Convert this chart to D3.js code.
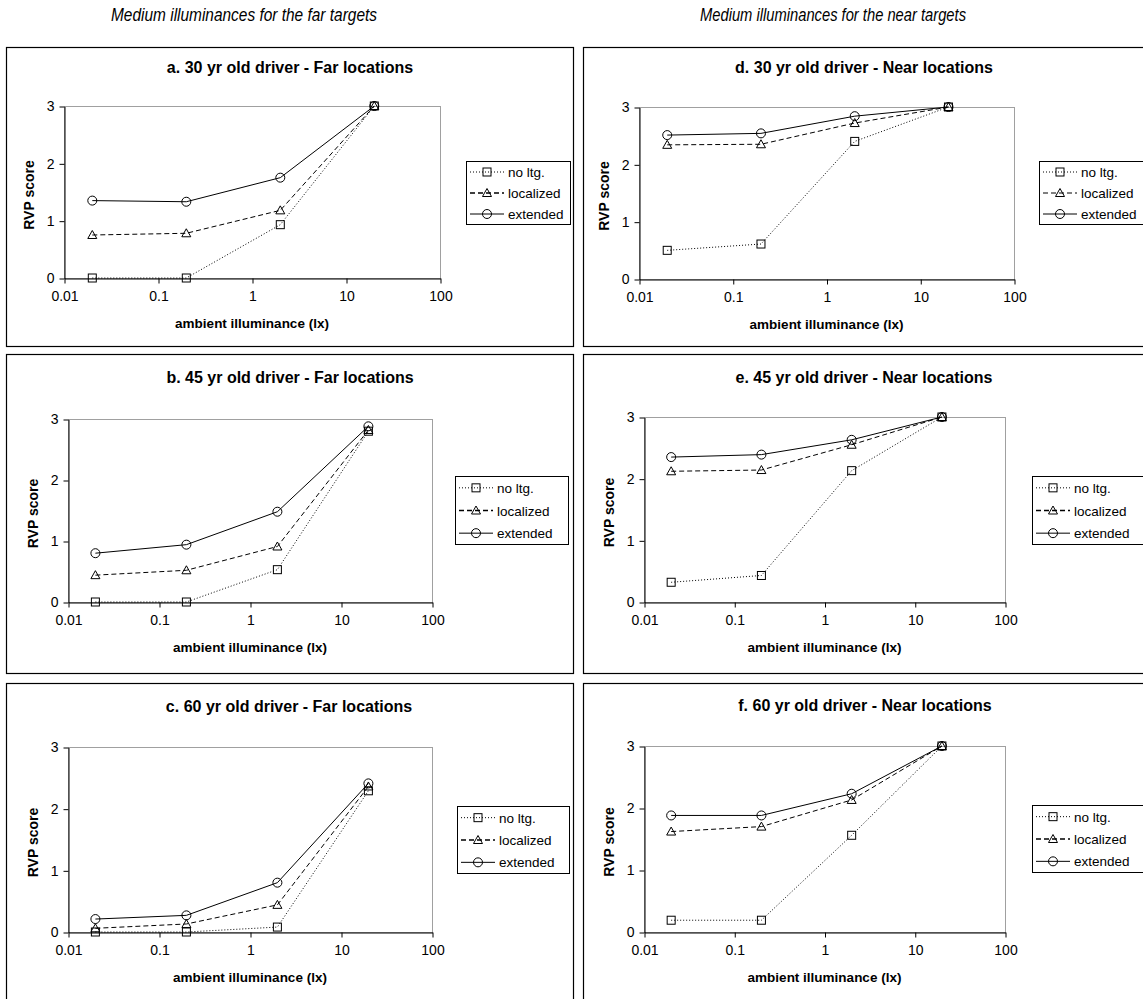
<!DOCTYPE html>
<html>
<head>
<meta charset="utf-8">
<script src="https://cdn.jsdelivr.net/npm/d3@7"></script>
<style>
  body { margin: 0; background: #fff; }
  svg { display: block; }
  text { font-family: "Liberation Sans", Arial, sans-serif; fill: #000; }
</style>
</head>
<body>
<svg id="chart" width="1143" height="999"></svg>
<script>
// ambient illuminance levels (lx) at which RVP was evaluated
const illuminance = [0.02, 0.2, 2, 20];
const xTickValues = [0.01, 0.1, 1, 10, 100];
const xTickLabels = ["0.01", "0.1", "1", "10", "100"];
const yTickValues = [0, 1, 2, 3];
const seriesLabels = ["no ltg.", "localized", "extended"];
const columnHeaders = ["Medium illuminances for the far targets", "Medium illuminances for the near targets"];
const panelTitles = [
  "a. 30 yr old driver - Far locations",
  "b. 45 yr old driver - Far locations",
  "c. 60 yr old driver - Far locations",
  "d. 30 yr old driver - Near locations",
  "e. 45 yr old driver - Near locations",
  "f. 60 yr old driver - Near locations"
];
const xAxisTitle = "ambient illuminance (lx)";
const yAxisTitle = "RVP score";

// RVP scores, one row per panel (a..f)
const noLighting = [
  [0, 0, 0.93, 3],
  [0, 0, 0.53, 2.80],
  [0, 0, 0.08, 2.29],
  [0.50, 0.61, 2.40, 3],
  [0.32, 0.43, 2.13, 3],
  [0.19, 0.19, 1.56, 3]
];
const localized = [
  [0.75, 0.78, 1.18, 3],
  [0.44, 0.52, 0.91, 2.82],
  [0.06, 0.13, 0.44, 2.36],
  [2.34, 2.35, 2.72, 3],
  [2.12, 2.14, 2.55, 3],
  [1.62, 1.70, 2.13, 3]
];
const extended = [
  [1.35, 1.33, 1.75, 3],
  [0.80, 0.94, 1.48, 2.88],
  [0.21, 0.27, 0.80, 2.41],
  [2.51, 2.54, 2.84, 3],
  [2.35, 2.39, 2.63, 3],
  [1.88, 1.88, 2.23, 3]
];

// panel geometry: frame, plot area and legend box as [x0, y0, x1, y1]
const layout = [
  { box: [6, 47, 573, 346],    plot: [64, 106, 440, 278],  legend: [466, 161, 570, 224],  titleX: 290, titleY: 67 },
  { box: [6, 354, 573, 673],   plot: [68, 419, 432, 602],  legend: [455, 476, 568, 544],  titleX: 290, titleY: 377 },
  { box: [6, 683, 573, 1010],  plot: [68, 747, 432, 932],  legend: [457, 806, 569, 873],  titleX: 289, titleY: 706 },
  { box: [583, 47, 1160, 346], plot: [639, 107, 1014, 279], legend: [1039, 161, 1160, 224], titleX: 864, titleY: 67 },
  { box: [583, 354, 1160, 673], plot: [644, 417, 1005, 602], legend: [1032, 476, 1160, 544], titleX: 864, titleY: 377 },
  { box: [583, 683, 1160, 1010], plot: [644, 746, 1005, 932], legend: [1032, 805, 1160, 872], titleX: 865, titleY: 705 }
];

const seriesStyle = [
  { dash: "1,2", marker: "square" },
  { dash: "5,3", marker: "triangle" },
  { dash: null,  marker: "circle" }
];

const svg = d3.select("#chart");

// column headers
[244, 833].forEach((cx, i) => {
  svg.append("text")
    .attr("x", cx).attr("y", 21)
    .attr("text-anchor", "middle")
    .attr("font-size", 18)
    .attr("font-style", "italic")
    .attr("textLength", 266)
    .attr("lengthAdjust", "spacingAndGlyphs")
    .text(columnHeaders[i]);
});

function drawMarker(g, type, cx, cy) {
  if (type === "square") {
    g.append("rect").attr("x", cx - 4).attr("y", cy - 4).attr("width", 8).attr("height", 8)
      .attr("fill", "none").attr("stroke", "#000").attr("stroke-width", 1);
  } else if (type === "triangle") {
    g.append("path").attr("d", `M${cx},${cy - 4.5}L${cx + 4.5},${cy + 3.5}L${cx - 4.5},${cy + 3.5}Z`)
      .attr("fill", "none").attr("stroke", "#000").attr("stroke-width", 1);
  } else {
    g.append("circle").attr("cx", cx).attr("cy", cy).attr("r", 4.5)
      .attr("fill", "none").attr("stroke", "#000").attr("stroke-width", 1);
  }
}

layout.forEach((L, p) => {
  const g = svg.append("g");
  const [bx0, by0, bx1, by1] = L.box;
  const [px0, py0, px1, py1] = L.plot;

  // panel frame
  g.append("rect")
    .attr("x", bx0 + 0.5).attr("y", by0 + 0.5)
    .attr("width", bx1 - bx0).attr("height", by1 - by0)
    .attr("fill", "#fff").attr("stroke", "#000").attr("stroke-width", 1.2);

  const x = d3.scaleLog().domain([0.01, 100]).range([px0, px1]);
  const y = d3.scaleLinear().domain([0, 3]).range([py1, py0]);

  // plot-area border
  g.append("rect")
    .attr("x", px0 + 0.5).attr("y", py0 + 0.5)
    .attr("width", px1 - px0).attr("height", py1 - py0)
    .attr("fill", "none").attr("stroke", "#a0a0a0").attr("stroke-width", 1);

  // axes
  const yAxis = g.append("g")
    .attr("transform", `translate(${px0 + 0.5},0.5)`)
    .call(d3.axisLeft(y).tickValues(yTickValues).tickFormat(d3.format("d")).tickSize(5).tickPadding(5).tickSizeOuter(0));
  const xAxis = g.append("g")
    .attr("transform", `translate(0.5,${py1 + 0.5})`)
    .call(d3.axisBottom(x).tickValues(xTickValues).tickFormat((d, i) => xTickLabels[i]).tickSize(5).tickPadding(8).tickSizeOuter(0));
  [yAxis, xAxis].forEach(a => {
    a.select(".domain").attr("stroke", "#000");
    a.selectAll(".tick line").attr("stroke", "#000");
    a.selectAll("text").attr("font-size", 14).attr("font-family", "Liberation Sans, Arial, sans-serif");
  });

  // titles
  g.append("text")
    .attr("x", L.titleX).attr("y", L.titleY + 6)
    .attr("text-anchor", "middle")
    .attr("font-size", 16).attr("font-weight", "bold")
    .text(panelTitles[p]);
  g.append("text")
    .attr("x", (px0 + px1) / 2).attr("y", py1 + 50)
    .attr("text-anchor", "middle")
    .attr("font-size", 13.5).attr("font-weight", "bold")
    .text(xAxisTitle);
  g.append("text")
    .attr("transform", `translate(${px0 - 30},${(py0 + py1) / 2 + 3}) rotate(-90)`)
    .attr("text-anchor", "middle")
    .attr("font-size", 14).attr("font-weight", "bold")
    .text(yAxisTitle);

  // series
  const seriesValues = [noLighting[p], localized[p], extended[p]];
  const line = d3.line().x(d => x(d[0])).y(d => y(d[1]));
  seriesValues.forEach((vals, s) => {
    const pts = illuminance.map((lx, i) => [lx, vals[i]]);
    g.append("path")
      .attr("d", line(pts))
      .attr("fill", "none").attr("stroke", "#000").attr("stroke-width", 1)
      .attr("stroke-dasharray", seriesStyle[s].dash);
  });
  seriesValues.forEach((vals, s) => {
    illuminance.forEach((lx, i) => drawMarker(g, seriesStyle[s].marker, x(lx), y(vals[i])));
  });

  // legend
  const [lx0, ly0, lx1, ly1] = L.legend;
  g.append("rect")
    .attr("x", lx0 + 0.5).attr("y", ly0 + 0.5)
    .attr("width", lx1 - lx0).attr("height", ly1 - ly0)
    .attr("fill", "#fff").attr("stroke", "#000").attr("stroke-width", 1);
  const rowH = (ly1 - ly0) / 3;
  seriesLabels.forEach((lab, s) => {
    const cy = ly0 + rowH * (s + 0.5) + 0.5;
    g.append("line")
      .attr("x1", lx0 + 4).attr("x2", lx0 + 38).attr("y1", cy).attr("y2", cy)
      .attr("stroke", "#000").attr("stroke-width", s === 1 && p !== 3 ? 1.6 : 1)
      .attr("stroke-dasharray", seriesStyle[s].dash);
    drawMarker(g, seriesStyle[s].marker, lx0 + 21, cy);
    g.append("text")
      .attr("x", lx0 + 42).attr("y", cy + 5)
      .attr("font-size", 13.5)
      .text(lab);
  });
});
</script>
</body>
</html>
